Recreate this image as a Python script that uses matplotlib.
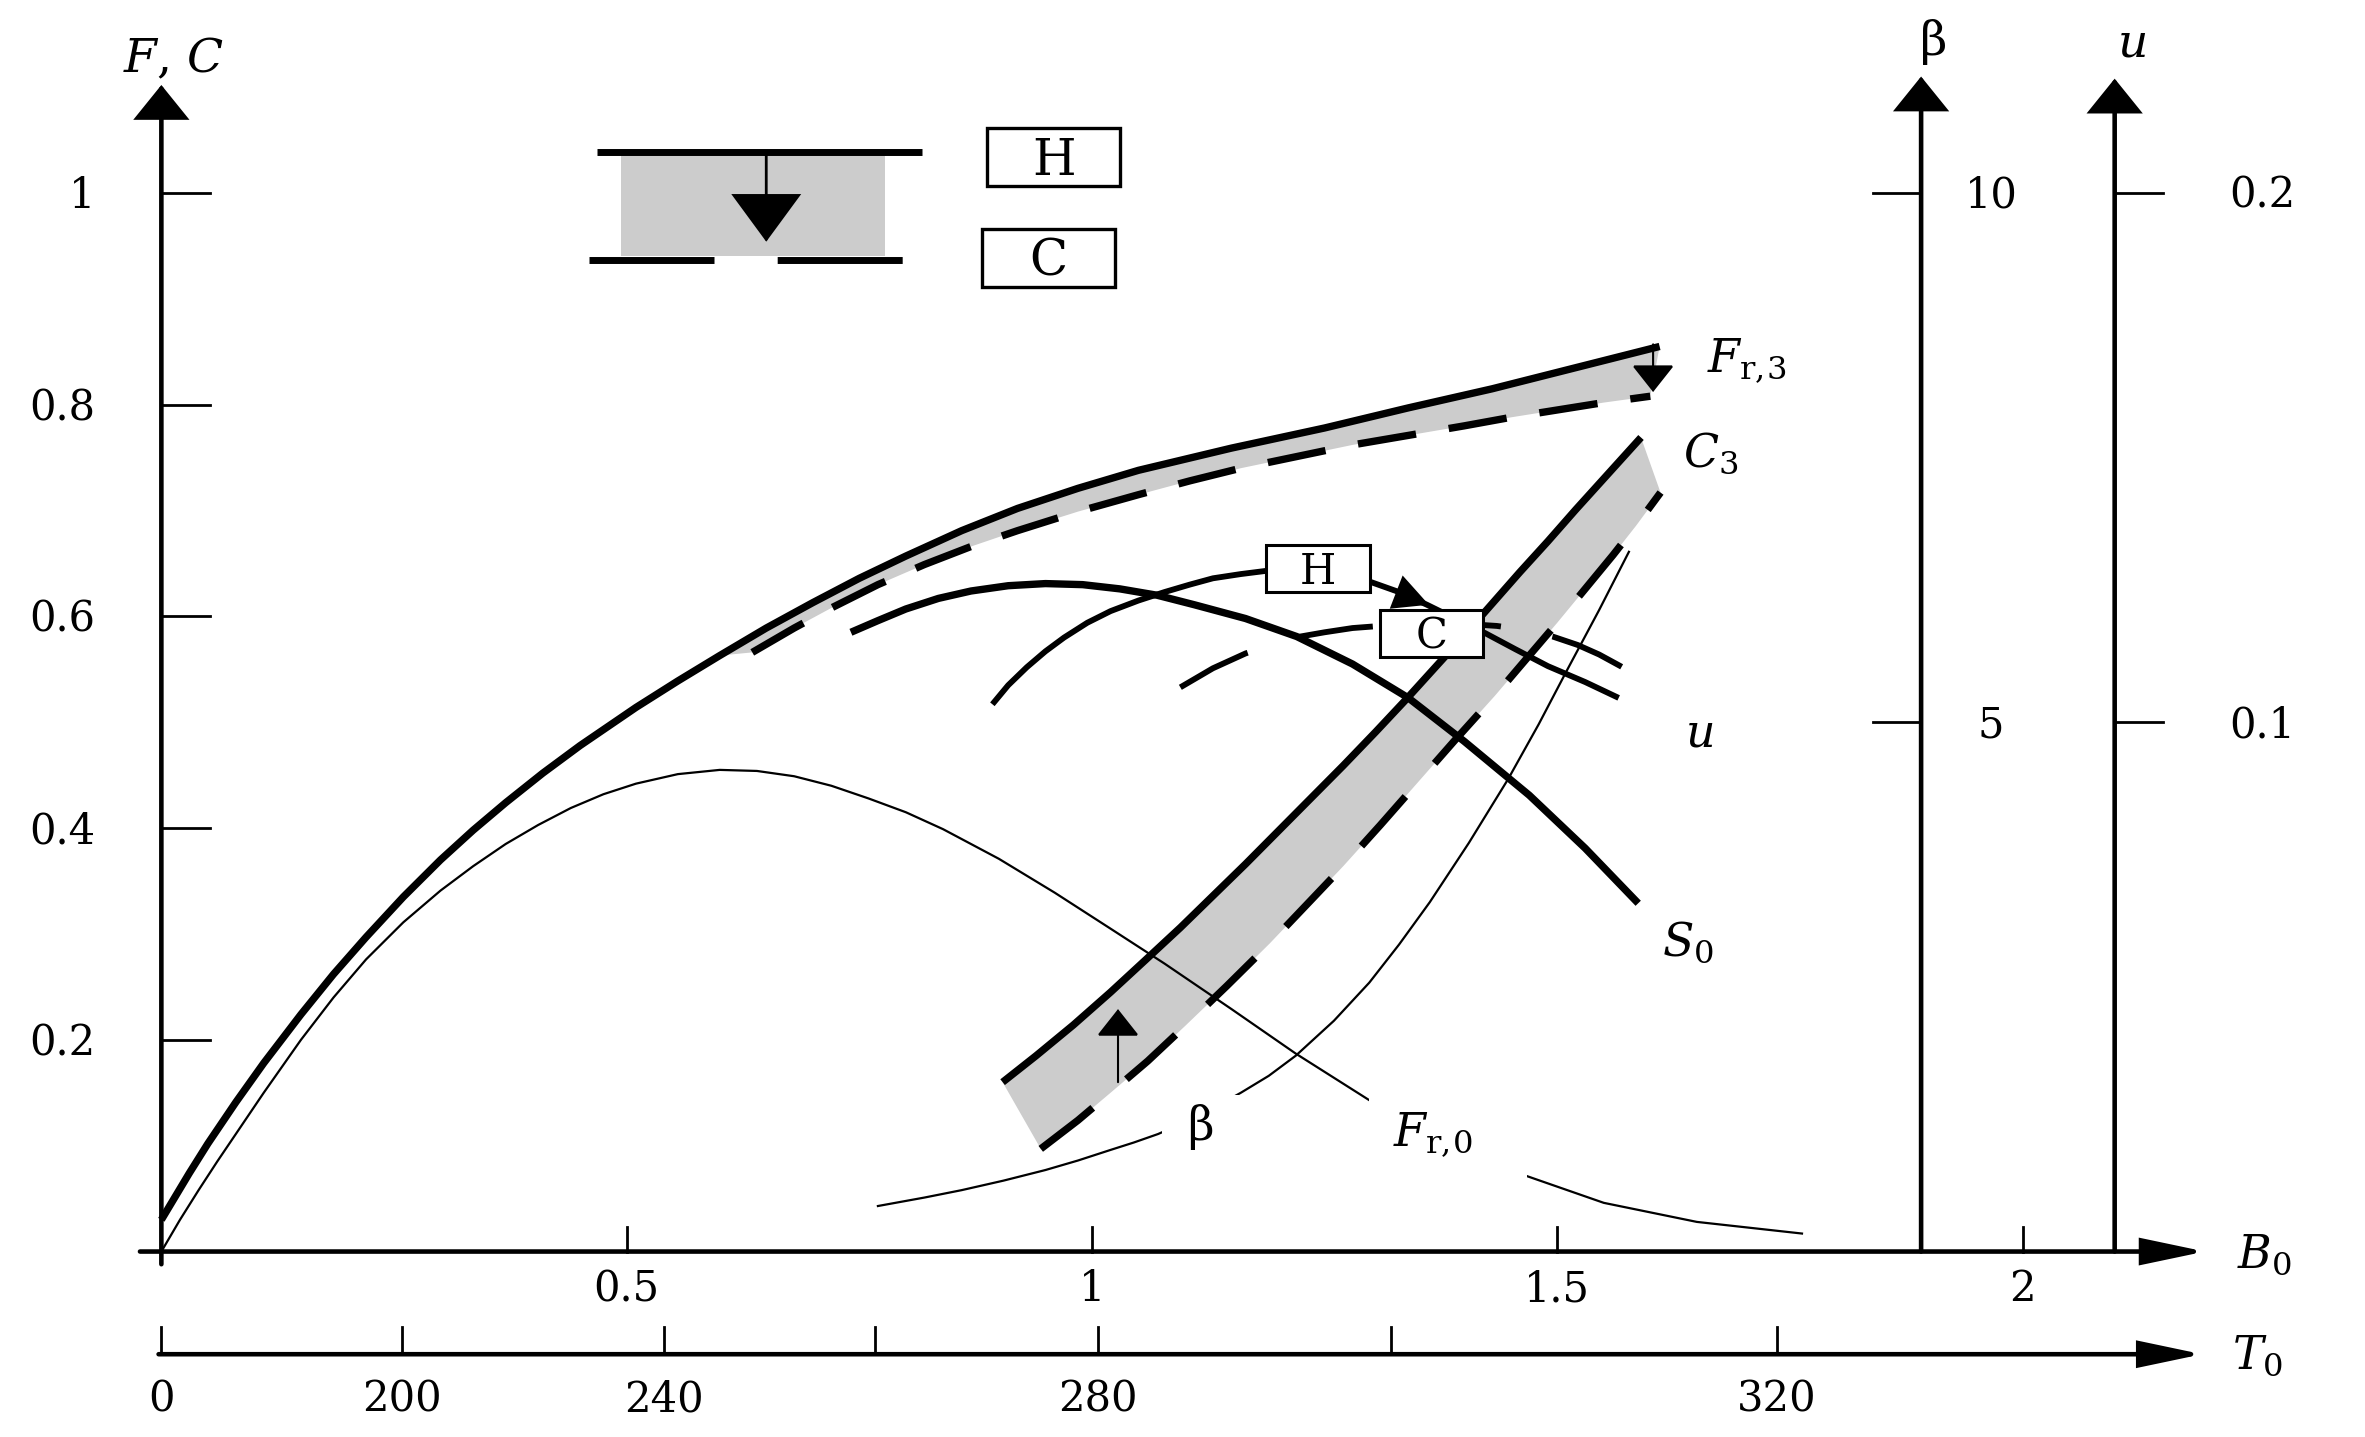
import numpy as np
import matplotlib
matplotlib.use('Agg')
import matplotlib.pyplot as plt
from matplotlib.patches import Polygon, Rectangle

# Curves: x is B0, y is on the left F, C scale
fr3_b = [0.0, 0.015, 0.03, 0.05, 0.08, 0.11, 0.15, 0.185, 0.22, 0.26, 0.30, 0.335, 0.37, 0.41, 0.45, 0.51,
         0.555, 0.60, 0.65, 0.70, 0.75, 0.80, 0.86, 0.92, 0.985, 1.05, 1.15, 1.25, 1.34, 1.43, 1.52, 1.61]
fr3_f = [0.03, 0.052, 0.074, 0.102, 0.141, 0.178, 0.224, 0.262, 0.297, 0.335, 0.370, 0.398, 0.424, 0.452, 0.478, 0.514,
         0.539, 0.563, 0.589, 0.613, 0.636, 0.657, 0.681, 0.702, 0.721, 0.738, 0.759, 0.778, 0.797, 0.815, 0.835, 0.855]

fr3c_b = [0.635, 0.68, 0.72, 0.77, 0.82, 0.87, 0.92, 0.985, 1.05, 1.105, 1.16, 1.22, 1.28, 1.34, 1.40, 1.45,
          1.50, 1.55, 1.60]
fr3c_f = [0.566, 0.589, 0.608, 0.630, 0.649, 0.666, 0.681, 0.699, 0.715, 0.728, 0.740, 0.751, 0.762, 0.771, 0.780,
          0.788, 0.795, 0.802, 0.808]

fr0_b = [0.0, 0.02, 0.04, 0.06, 0.08, 0.11, 0.15, 0.185, 0.22, 0.26, 0.30, 0.335, 0.37, 0.405, 0.44, 0.475,
         0.51, 0.555, 0.60, 0.64, 0.68, 0.72, 0.76, 0.80, 0.84, 0.90, 0.96, 1.02, 1.078, 1.15, 1.219, 1.298,
         1.38, 1.465, 1.55, 1.65, 1.763]
fr0_f = [0.0, 0.030, 0.058, 0.085, 0.111, 0.150, 0.200, 0.240, 0.276, 0.311, 0.341, 0.364, 0.385, 0.403, 0.419, 0.432,
         0.442, 0.451, 0.455, 0.454, 0.449, 0.440, 0.428, 0.415, 0.399, 0.371, 0.339, 0.305, 0.272, 0.229, 0.187, 0.143,
         0.104, 0.072, 0.046, 0.028, 0.017]

s0_b = [0.741, 0.77, 0.80, 0.835, 0.87, 0.91, 0.95, 0.99, 1.03, 1.07, 1.11, 1.165, 1.22, 1.28, 1.34, 1.40,
        1.47, 1.53, 1.587]
s0_f = [0.585, 0.596, 0.607, 0.617, 0.624, 0.629, 0.631, 0.630, 0.626, 0.620, 0.611, 0.598, 0.581, 0.555, 0.523, 0.482,
        0.431, 0.381, 0.329]

u_h_b = [0.893, 0.91, 0.93, 0.95, 0.97, 0.995, 1.02, 1.05, 1.078, 1.105, 1.13, 1.16, 1.187, 1.215, 1.243, 1.27,
         1.298, 1.33, 1.36, 1.39, 1.423, 1.455, 1.49, 1.53, 1.566]
u_h_f = [0.517, 0.535, 0.552, 0.567, 0.580, 0.594, 0.605, 0.615, 0.623, 0.630, 0.636, 0.640, 0.643, 0.645, 0.645, 0.641,
         0.633, 0.623, 0.611, 0.598, 0.584, 0.569, 0.553, 0.538, 0.523]

u_c_b = [1.095, 1.13, 1.165, 1.195, 1.224, 1.25, 1.28, 1.31, 1.34, 1.37, 1.40, 1.435, 1.468, 1.495, 1.522, 1.545,
         1.568, 1.588]
u_c_f = [0.533, 0.551, 0.565, 0.574, 0.581, 0.585, 0.589, 0.591, 0.593, 0.594, 0.593, 0.591, 0.587, 0.581, 0.573, 0.564,
         0.553, 0.543]

c3_b = [0.904, 0.94, 0.98, 1.02, 1.057, 1.095, 1.13, 1.165, 1.20, 1.235, 1.27, 1.305, 1.337, 1.37, 1.40, 1.43,
        1.46, 1.49, 1.52, 1.555, 1.59]
c3_f = [0.160, 0.185, 0.214, 0.245, 0.275, 0.306, 0.336, 0.366, 0.397, 0.428, 0.459, 0.491, 0.521, 0.553, 0.582, 0.612,
        0.642, 0.671, 0.701, 0.735, 0.769]

c3c_b = [0.945, 0.985, 1.02, 1.06, 1.10, 1.145, 1.191, 1.23, 1.27, 1.31, 1.35, 1.39, 1.433, 1.465, 1.50, 1.53,
         1.56, 1.585, 1.611]
c3c_f = [0.097, 0.124, 0.150, 0.180, 0.213, 0.251, 0.291, 0.327, 0.364, 0.403, 0.443, 0.483, 0.525, 0.558, 0.594, 0.626,
         0.658, 0.686, 0.717]

beta_b = [0.77, 0.82, 0.86, 0.905, 0.95, 0.985, 1.02, 1.045, 1.071, 1.115, 1.16, 1.19, 1.219, 1.26, 1.298, 1.33,
          1.363, 1.405, 1.447, 1.48, 1.511, 1.545, 1.577]
beta_f = [0.043, 0.051, 0.058, 0.067, 0.077, 0.086, 0.096, 0.103, 0.111, 0.128, 0.150, 0.166, 0.185, 0.218, 0.254, 0.290,
          0.330, 0.386, 0.446, 0.498, 0.550, 0.606, 0.661]

# axis ticks
f_ticks = [0.2, 0.4, 0.6, 0.8, 1.0]
f_labels = ['0.2', '0.4', '0.6', '0.8', '1']
b0_ticks = [0.5, 1.0, 1.5, 2.0]
b0_labels = ['0.5', '1', '1.5', '2']
t0_values = [0, 200, 240, 260, 280, 300, 320]
t0_at_b0 = [0.0, 0.259, 0.540, 0.767, 1.006, 1.321, 1.736]
t0_labels = ['0', '200', '240', '', '280', '', '320']
beta_ticks = [5, 10]
u_ticks = [0.1, 0.2]
BETA_MAX = 10     # beta at F = 1
U_MAX = 0.2       # u at F = 1

plt.rcParams['font.family'] = ['DejaVu Serif']
plt.rcParams['mathtext.fontset'] = 'dejavuserif'

GRAY = '#cccccc'
THICK = 5.3
U_LW = 4.2
THIN = 1.6
AX_LW = 3.3
TICK_LW = 2.0
TICK_FS = 30

fig = plt.figure(figsize=(23.65, 14.37), dpi=100)
ax = fig.add_axes([0, 0, 1, 1])
ax.set_xlim(-0.1734, 2.368)
ax.set_ylim(-0.1752, 1.1823)
ax.axis('off')


def arrow(x0, y0, x1, y1, lw, hl, hw, z=5):
    ax.annotate('', xy=(x1, y1), xytext=(x0, y0), annotation_clip=False,
                arrowprops=dict(arrowstyle=f'-|>,head_length={hl},head_width={hw}',
                                mutation_scale=40, lw=lw, color='k',
                                shrinkA=0, shrinkB=0, joinstyle='miter'),
                zorder=z)


# shaded bands between solid (H) and dashed (C) curves
b = np.array(fr3_b)
f = np.array(fr3_f)
keep = b >= 0.6
band = np.column_stack([np.r_[b[keep], fr3c_b[::-1]], np.r_[f[keep], fr3c_f[::-1]]])
ax.add_patch(Polygon(band, closed=True, fc=GRAY, ec='none', zorder=1))
band = np.column_stack([np.r_[c3_b, c3c_b[::-1]], np.r_[c3_f, c3c_f[::-1]]])
ax.add_patch(Polygon(band, closed=True, fc=GRAY, ec='none', zorder=1))

# thin curves
ax.plot(fr0_b, fr0_f, color='k', lw=THIN, zorder=2)
ax.plot(beta_b, beta_f, color='k', lw=THIN, zorder=2)

# thick curves
ax.plot(fr3_b, fr3_f, color='k', lw=THICK, solid_capstyle='butt', solid_joinstyle='round', zorder=3)
ax.plot(fr3c_b, fr3c_f, color='k', lw=THICK, dashes=(8, 4.5), zorder=3)
ax.plot(c3_b, c3_f, color='k', lw=THICK, solid_capstyle='butt', solid_joinstyle='round', zorder=3)
ax.plot(c3c_b, c3c_f, color='k', lw=THICK, dashes=(9, 6), zorder=3)
ax.plot(s0_b, s0_f, color='k', lw=THICK, solid_capstyle='butt', solid_joinstyle='round', zorder=3)
ax.plot(u_h_b, u_h_f, color='k', lw=U_LW, solid_capstyle='butt', solid_joinstyle='round', zorder=3)
ax.plot(u_c_b, u_c_f, color='k', lw=U_LW, dashes=(13, 9), zorder=3)

# small arrows showing the shift H -> C
arrow(1.028, 0.160, 1.028, 0.229, 1.5, 0.43, 0.34)
arrow(1.603, 0.857, 1.603, 0.812, 1.5, 0.43, 0.34)
arrow(1.318, 0.626, 1.362, 0.611, 2.0, 0.55, 0.28, z=6)

# H and C boxes on the u curves
for cx, cy, letter in [(1.243, 0.645, 'H'), (1.365, 0.584, 'C')]:
    ax.add_patch(Rectangle((cx - 0.0555, cy - 0.0222), 0.111, 0.0444,
                           fc='white', ec='k', lw=2.2, zorder=7))
    ax.text(cx, cy - 0.0143, letter, fontsize=30, ha='center', va='baseline', zorder=8)

# white patches behind the curve labels
ax.add_patch(Rectangle((1.075, 0.063), 0.147, 0.085, fc='white', ec='none', zorder=4))
ax.add_patch(Rectangle((1.298, 0.060), 0.170, 0.097, fc='white', ec='none', zorder=4))

# curve labels
lab = dict(fontsize=33, color='k', zorder=8, va='baseline')
ax.text(1.661, 0.831, r'$F_{\mathrm{r,\!3}}$', ha='left', **lab)
ax.text(1.635, 0.741, r'$C_3$', ha='left', **lab)
ax.text(1.637, 0.477, r'$u$', ha='left', **lab)
ax.text(1.613, 0.279, r'$S_0$', ha='left', **lab)
ax.text(1.117, 0.105, 'β', ha='center', **lab)
ax.text(1.324, 0.0997, r'$F_{\mathrm{r,\!0}}$', ha='left', **lab)

# legend sketch in the top left
ax.add_patch(Rectangle((0.494, 0.940), 0.284, 0.0956, fc=GRAY, ec='none', zorder=1))
ax.plot([0.468, 0.817], [1.0385, 1.0385], color='k', lw=5, solid_capstyle='butt', zorder=3)
ax.plot([0.460, 0.797], [0.937, 0.937], color='k', lw=5, dashes=(18, 9.1), zorder=3)
arrow(0.650, 1.037, 0.650, 0.954, 2.0, 0.79, 0.58)
for cx, cy, letter in [(0.959, 1.034, 'H'), (0.953, 0.939, 'C')]:
    ax.add_patch(Rectangle((cx - 0.0715, cy - 0.0274), 0.143, 0.0548,
                           fc='white', ec='k', lw=2.4, zorder=7))
    ax.text(cx, cy - 0.017, letter, fontsize=36, ha='center', va='baseline', zorder=8)

# left F, C axis
arrow(0.0, -0.012, 0.0, 1.102, AX_LW, 0.52, 0.42)
for fv, fl in zip(f_ticks, f_labels):
    ax.plot([0.0, 0.052], [fv, fv], color='k', lw=TICK_LW, zorder=5)
    ax.text(-0.071, fv - 0.0145, fl, fontsize=TICK_FS, ha='right', va='baseline')
ax.text(0.013, 1.114, r'$F$, $C$', fontsize=34, ha='center', va='baseline')

# B0 axis
arrow(-0.023, 0.0, 2.196, 0.0, AX_LW, 0.95, 0.2)
for bv, bl in zip(b0_ticks, b0_labels):
    ax.plot([bv, bv], [0.0, 0.023], color='k', lw=TICK_LW, zorder=5)
    ax.text(bv, -0.047, bl, fontsize=TICK_FS, ha='center', va='baseline')
ax.text(2.230, -0.015, r'$B_0$', fontsize=33, ha='left', va='baseline')

# T0 axis
T0_Y = -0.097
arrow(-0.003, T0_Y, 2.193, T0_Y, AX_LW, 0.95, 0.2)
for tb, tl in zip(t0_at_b0, t0_labels):
    ax.plot([tb, tb], [T0_Y, T0_Y + 0.026], color='k', lw=TICK_LW, zorder=5)
    if tl:
        ax.text(tb, -0.151, tl, fontsize=TICK_FS, ha='center', va='baseline')
ax.text(2.225, -0.111, r'$T_0$', fontsize=33, ha='left', va='baseline')

# beta axis
BETA_X = 1.891
arrow(BETA_X, 0.0, BETA_X, 1.110, AX_LW, 0.52, 0.42)
for bt in beta_ticks:
    fv = bt / BETA_MAX
    ax.plot([BETA_X - 0.052, BETA_X], [fv, fv], color='k', lw=TICK_LW, zorder=5)
    ax.text(1.966, fv - 0.014, str(bt), fontsize=TICK_FS, ha='center', va='baseline')
ax.text(1.904, 1.130, 'β', fontsize=34, ha='center', va='baseline')

# u axis
U_X = 2.099
arrow(U_X, 0.0, U_X, 1.108, AX_LW, 0.52, 0.42)
for ut in u_ticks:
    fv = ut / U_MAX
    ax.plot([U_X, U_X + 0.052], [fv, fv], color='k', lw=TICK_LW, zorder=5)
    ax.text(2.258, fv - 0.014, f'{ut:.1f}', fontsize=TICK_FS, ha='center', va='baseline')
ax.text(2.117, 1.129, r'$u$', fontsize=34, ha='center', va='baseline')

fig.savefig('out.png', dpi=100)
